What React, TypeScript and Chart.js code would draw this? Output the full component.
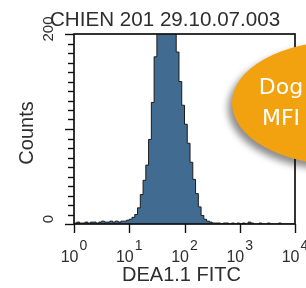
import React, { useEffect, useRef } from 'react';
import { Chart, registerables } from 'chart.js';

Chart.register(...registerables);

const TITLE = 'CHIEN 201 29.10.07.003';
const X_TITLE = 'DEA1.1 FITC';
const Y_TITLE = 'Counts';
const BADGE_LINES = ['Dog', 'MFI'];

// x axis: log decades 10^0 .. 10^4
const X_DECADE_LABELS = [0, 1, 2, 3, 4];
const Y_TICK_LABELS = [0, 200];
const Y_MAX = 200;
const Y_STEP = 10;
const Y_MAJOR_STEP = 100;

// histogram bins, each BIN_WIDTH_DECADES wide, starting at 10^0
const BIN_WIDTH_DECADES = 0.05;
const counts = [
  1, 2, 1, 1, 2, 1, 2, 2, 1, 2,
  3, 2, 2, 3, 2, 3, 2, 3, 3, 4,
  5, 7, 10, 17, 31, 46, 62, 89, 128, 176,
  235, 270, 300, 310, 290, 260, 225, 181, 150, 125,
  105, 85, 65, 47, 32, 18, 9, 5, 3, 2,
  1, 1, 1, 0, 1, 1, 0, 1, 0, 1,
  0, 1, 0, 2, 1, 0, 0, 1, 0, 0,
  1, 0, 0, 0, 1, 0, 0, 0, 0, 0,
];

const TEXT = '#2e2e2e';
const FONT = '"Liberation Sans", Arial, sans-serif';

const decor = {
  id: 'decor',
  afterDraw(chart: any) {
    const { ctx, chartArea: a, scales } = chart;
    const x = scales.x;
    const y = scales.y;
    ctx.save();
    // frame
    ctx.strokeStyle = '#111';
    ctx.lineWidth = 1.7;
    ctx.strokeRect(a.left, a.top, a.right - a.left, a.bottom - a.top);

    // x tick marks (from library log scale ticks)
    ctx.lineWidth = 1.4;
    x.ticks.forEach((t: any) => {
      if (t.value < x.min || t.value > x.max) return;
      const px = Math.round(x.getPixelForValue(t.value)) + 0.5;
      const e = Math.log10(t.value);
      const major = Math.abs(e - Math.round(e)) < 1e-6;
      ctx.beginPath();
      ctx.moveTo(px, a.bottom);
      ctx.lineTo(px, a.bottom + (major ? 9 : 5));
      ctx.stroke();
    });
    // y tick marks
    for (let v = 0; v <= Y_MAX; v += Y_STEP) {
      const py = Math.round(y.getPixelForValue(v)) + 0.5;
      const major = v % Y_MAJOR_STEP === 0;
      ctx.beginPath();
      ctx.moveTo(a.left, py);
      ctx.lineTo(a.left - (major ? 9 : 6), py);
      ctx.stroke();
    }

    ctx.fillStyle = TEXT;
    // x tick labels 10^n
    X_DECADE_LABELS.forEach((e) => {
      const px = x.getPixelForValue(Math.pow(10, e));
      ctx.font = `16px ${FONT}`;
      const wBase = ctx.measureText('10').width;
      ctx.font = `14px ${FONT}`;
      const wExp = ctx.measureText(String(e)).width;
      const start = px - (wBase + wExp + 1) / 2;
      ctx.textAlign = 'left';
      ctx.textBaseline = 'alphabetic';
      ctx.font = `16px ${FONT}`;
      ctx.fillText('10', start, a.bottom + 38);
      ctx.font = `14px ${FONT}`;
      ctx.fillText(String(e), start + wBase + 1, a.bottom + 26);
    });

    // y tick labels, rotated
    ctx.font = `15px ${FONT}`;
    Y_TICK_LABELS.forEach((v) => {
      const py = y.getPixelForValue(v);
      ctx.save();
      ctx.translate(a.left - 21, py - 5);
      ctx.rotate(-Math.PI / 2);
      ctx.textAlign = 'center';
      ctx.textBaseline = 'alphabetic';
      ctx.fillText(String(v), 0, 0);
      ctx.restore();
    });

    // axis titles
    ctx.font = `20px ${FONT}`;
    ctx.textAlign = 'center';
    ctx.textBaseline = 'alphabetic';
    ctx.fillText(X_TITLE, (a.left + a.right) / 2 - 3, a.bottom + 57);

    ctx.save();
    ctx.translate(a.left - 41, (a.top + a.bottom) / 2 + 4);
    ctx.rotate(-Math.PI / 2);
    ctx.fillText(Y_TITLE, 0, 0);
    ctx.restore();

    // chart title
    ctx.font = `20.6px ${FONT}`;
    ctx.textAlign = 'left';
    ctx.fillText(TITLE, a.left - 24, a.top - 8);
    ctx.restore();
  },
};

export default function App() {
  const ref = useRef<HTMLCanvasElement | null>(null);

  useEffect(() => {
    if (!ref.current) return;
    const points = counts.map((c, i) => ({ x: Math.pow(10, i * BIN_WIDTH_DECADES), y: c }));
    points.push({ x: Math.pow(10, counts.length * BIN_WIDTH_DECADES), y: counts[counts.length - 1] });

    const chart = new Chart(ref.current, {
      type: 'line',
      data: {
        datasets: [
          {
            data: points,
            stepped: true,
            fill: 'origin',
            backgroundColor: '#416b90',
            borderColor: '#1c1c1c',
            borderWidth: 1,
            pointRadius: 0,
            tension: 0,
          },
        ],
      },
      options: {
        animation: false,
        responsive: false,
        events: [],
        layout: { padding: { left: 74, right: 11, top: 34, bottom: 64 } },
        plugins: { legend: { display: false }, tooltip: { enabled: false }, title: { display: false } },
        scales: {
          x: {
            type: 'logarithmic',
            min: 1,
            max: 10000,
            display: false,
          },
          y: {
            type: 'linear',
            min: 0,
            max: Y_MAX,
            display: false,
          },
        },
      },
      plugins: [decor],
    });
    return () => chart.destroy();
  }, []);

  return (
    <div style={{ position: 'fixed', left: 0, top: 0, width: 306, height: 288, overflow: 'hidden', background: '#fff' }}>
      <canvas ref={ref} width={306} height={288} style={{ display: 'block', width: 306, height: 288 }} />
      <div
        style={{
          position: 'absolute',
          left: 232,
          top: 41,
          width: 220,
          height: 124,
          borderRadius: '50%',
          background: '#f3a20f',
          boxShadow: '-4px 5px 7px rgba(0,0,0,0.45)',
        }}
      />
      <div
        style={{
          position: 'absolute',
          left: 250,
          top: 71,
          width: 62,
          textAlign: 'center',
          fontFamily: '"DejaVu Sans", Verdana, sans-serif',
          fontSize: 22,
          lineHeight: '31px',
          color: '#ffffff',
        }}
      >
        {BADGE_LINES.map((l) => (
          <div key={l}>{l}</div>
        ))}
      </div>
    </div>
  );
}
